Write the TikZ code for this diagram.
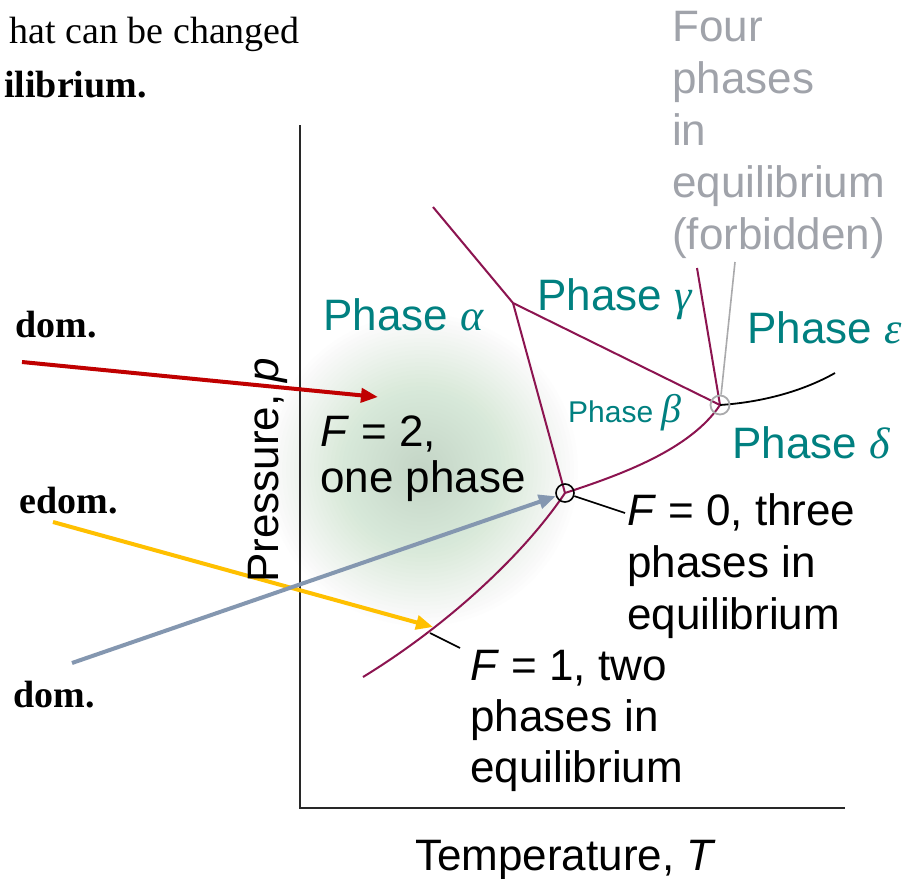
\documentclass[tikz,border=0pt]{standalone}
\usepackage{fontspec}
\setmainfont{Liberation Sans}
\newfontfamily\serifx{Liberation Serif}
\newcommand{\grk}[1]{{\serifx\itshape #1}}
\usetikzlibrary{arrows.meta}
\definecolor{phaseline}{RGB}{140,20,80}
\definecolor{tealtxt}{RGB}{0,128,128}
\definecolor{fgray}{RGB}{160,163,170}
\definecolor{redarr}{RGB}{192,0,0}
\definecolor{yelarr}{RGB}{255,192,0}
\definecolor{bluarr}{RGB}{132,151,176}
\definecolor{blobc}{RGB}{130,165,135}
\definecolor{axisc}{RGB}{40,40,40}
\begin{document}
\begin{tikzpicture}[x=1pt,y=-1pt,
  bigtext/.style={font=\fontsize{44}{52}\selectfont, inner sep=0pt, align=left},
  phasetext/.style={font=\fontsize{44}{52}\selectfont, inner sep=0pt, text=tealtxt},
  bordertext/.style={font=\serifx\fontsize{38}{46}\selectfont, inner sep=0pt},
  borderbold/.style={font=\serifx\bfseries\fontsize{38}{46}\selectfont, inner sep=0pt},
  pline/.style={draw=phaseline, line width=2pt},
  bigarrow/.style={line width=4pt, -{Triangle[length=17pt,width=14pt]}},
  leader/.style={line width=1.6pt}]
\useasboundingbox (0,0) rectangle (912,878);
\fill[white] (0,0) rectangle (912,878);

% soft green region
\coordinate (blob) at (422,470);
\foreach \r in {4,8,...,156}
  \fill[blobc, fill opacity=0.013] (blob) circle (\r);

% cut-off text on the left
\node[bordertext, anchor=base east] (t1) at (300,43) {hat can be changed};
\node[borderbold, anchor=base east] (t2) at (147,97) {ilibrium.};
\node[borderbold, anchor=base east] (t3) at (97,337) {dom.};
\node[borderbold, anchor=base east] (t4) at (118,513) {edom.};
\node[borderbold, anchor=base east] (t5) at (95,707) {dom.};

% axes
\coordinate (ytop) at (300,125);
\coordinate (orig) at (300,808);
\coordinate (xend) at (845,808);
\draw[axisc, line width=2pt] (ytop) -- (orig) -- (xend);

% key points
\coordinate (J) at (513,303);
\coordinate (T) at (565,493);
\coordinate (Q) at (720,405);
\coordinate (a0) at (433,207);
\coordinate (g0) at (697,268);
\coordinate (l0) at (363,677);
\coordinate (e0) at (835,373);

% phase boundaries
\draw[pline] (a0) -- (J);
\draw[pline] (J) -- (Q);
\draw[pline] (J) -- (T);
\draw[pline] (g0) -- (Q);
\draw[pline] (T) .. controls (620,475) and (690,450) .. (Q);
\draw[pline] (T) .. controls (520,560) and (440,630) .. (l0);
\draw[black, line width=1.8pt] (Q) .. controls (765,402) and (805,390) .. (e0);

% point markers
\node[circle, draw=black, line width=1.6pt, minimum size=18pt, inner sep=0pt] (Tc) at (T) {};
\node[circle, draw={rgb,255:red,170;green,170;blue,172}, line width=1.8pt, minimum size=19pt, inner sep=0pt] (Qc) at (Q) {};

% leaders
\coordinate (c0) at (625,513);
\coordinate (c1a) at (430,633);
\coordinate (c1b) at (460,648);
\coordinate (c4) at (735,262);
\draw[leader, black] (Tc) -- (c0);
\draw[leader, black] (c1a) -- (c1b);
\draw[leader, draw={rgb,255:red,170;green,170;blue,172}] (Qc) -- (c4);

% arrows
\coordinate (r0) at (22,362);
\coordinate (r1) at (378,397);
\coordinate (y0) at (53,522);
\coordinate (y1) at (433,627);
\coordinate (b0) at (72,663);
\draw[bigarrow, redarr] (r0) -- (r1);
\draw[bigarrow, yelarr] (y0) -- (y1);
\draw[bigarrow, bluarr] (b0) -- (Tc);

% phase labels
\node[phasetext, anchor=base west] (pa) at (323,330) {Phase \grk{α}};
\node[phasetext, anchor=base west] (pg) at (537,310) {Phase \grk{γ}};
\node[phasetext, anchor=base west] (pe) at (747,343) {Phase \grk{ε}};
\node[phasetext, anchor=base west] (pd) at (732,458) {Phase \grk{δ}};
\node[phasetext, anchor=base west, font=\fontsize{30}{36}\selectfont] (pb) at (568,422) {Phase {\fontsize{40}{40}\selectfont\grk{β}}};

% explanatory texts
\node[bigtext, anchor=north west, text=fgray] (four) at (672,11) {Four\\phases\\in\\equilibrium\\(forbidden)};
\node[bigtext, anchor=north west, font=\fontsize{44}{46}\selectfont] (f2) at (320,416) {\textit{F} = 2,\\one phase};
\node[bigtext, anchor=north west] (f0) at (627,493) {\textit{F} = 0, three\\phases in\\equilibrium};
\node[bigtext, anchor=north west, font=\fontsize{44}{51}\selectfont] (f1) at (470,650) {\textit{F} = 1, two\\phases in\\equilibrium};

% axis labels
\node[bigtext, anchor=base west] (xl) at (415,870) {Temperature, \textit{T}};
\node[bigtext, anchor=base west, rotate=90] (yl) at (278,583) {Pressure, \textit{p}};
\end{tikzpicture}
\end{document}
